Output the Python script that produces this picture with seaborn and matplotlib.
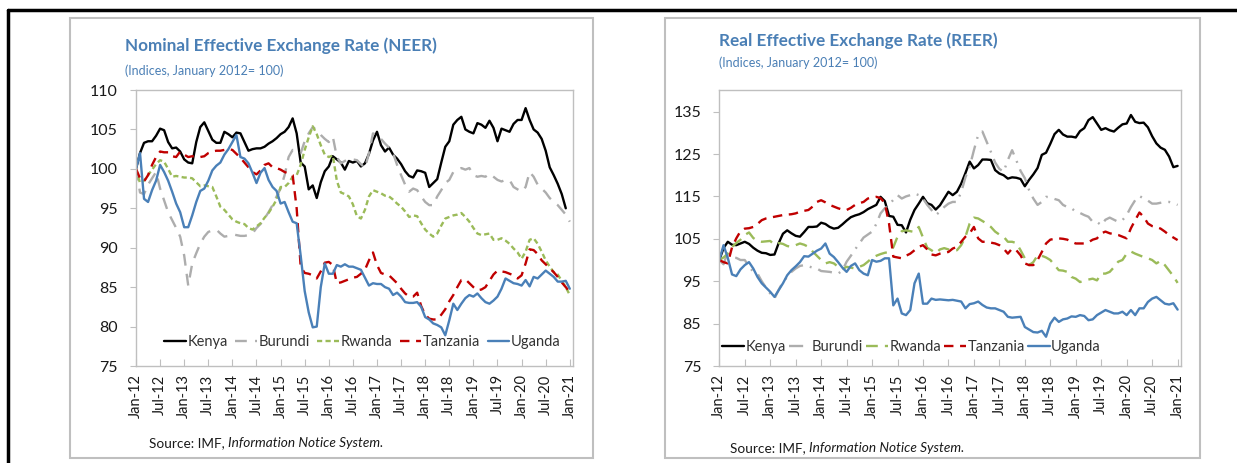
import matplotlib
matplotlib.use("Agg")
import matplotlib.pyplot as plt
from matplotlib.patches import Rectangle
from matplotlib.lines import Line2D
import pandas as pd
import seaborn as sns

# ---------------------------------------------------------------- data
countries = ["Kenya", "Burundi", "Rwanda", "Tanzania", "Uganda"]
tick_labels = ["Jan-12", "Jul-12", "Jan-13", "Jul-13", "Jan-14", "Jul-14",
               "Jan-15", "Jul-15", "Jan-16", "Jul-16", "Jan-17", "Jul-17",
               "Jan-18", "Jul-18", "Jan-19", "Jul-19", "Jan-20", "Jul-20",
               "Jan-21"]

# Nominal effective exchange rate, monthly from Jan-2012 (Jan 2012 = 100)
neer_kenya = [100.0, 102.0, 103.3, 103.5, 103.5, 104.2, 105.1, 104.9, 103.4, 102.6,
              102.7, 102.2, 101.2, 100.8, 100.7, 103.4, 105.3, 105.9, 104.8, 103.7,
              103.3, 103.3, 104.7, 104.4, 104.0, 104.6, 104.5, 103.4, 102.3, 102.5,
              102.6, 102.6, 102.8, 103.2, 103.5, 103.9, 104.4, 104.7, 105.3, 106.4,
              104.5, 100.8, 100.3, 97.4, 97.9, 96.3, 98.3, 99.7, 100.3, 101.6,
              101.2, 100.8, 99.9, 101.0, 100.8, 101.0, 100.3, 100.7, 101.9, 103.6,
              104.7, 103.0, 102.2, 102.7, 101.8, 101.3, 100.6, 99.7, 99.1, 98.9,
              99.8, 99.7, 99.5, 97.7, 98.2, 98.7, 100.8, 102.8, 103.5, 105.6,
              106.2, 106.6, 105.0, 104.7, 104.5, 105.8, 105.6, 105.2, 106.1, 105.2,
              103.5, 105.1, 104.9, 104.7, 105.7, 106.2, 106.2, 107.7, 106.2, 105.0,
              104.6, 103.8, 102.3, 100.2, 99.2, 98.1, 96.8, 95.0]
neer_burundi = [100.0, 97.0, 96.8, 98.0, 98.8, 99.6, 97.5, 96.0, 94.5, 93.5,
                92.5, 91.4, 89.0, 85.2, 88.0, 89.3, 90.5, 91.4, 92.0, 92.2,
                92.3, 91.8, 91.4, 91.5, 91.7, 91.6, 91.5, 91.5, 91.6, 91.8,
                92.5, 93.0, 93.7, 94.5, 95.4, 96.5, 97.5, 99.2, 101.5, 102.4,
                102.2, 102.0, 103.5, 104.5, 105.3, 104.9, 104.3, 103.8, 103.4, 104.1,
                101.5, 100.7, 101.0, 101.3, 101.2, 101.1, 100.6, 100.1, 102.0, 104.5,
                104.3, 103.8, 103.2, 102.7, 102.0, 100.5, 99.2, 98.0, 97.1, 97.5,
                97.3, 96.5, 95.8, 95.4, 95.4, 96.5, 97.3, 98.2, 98.6, 99.6,
                99.9, 100.1, 99.9, 100.1, 99.2, 99.0, 99.1, 99.0, 99.4, 99.0,
                98.6, 98.4, 98.6, 98.6, 97.7, 97.4, 97.1, 97.7, 99.6, 99.0,
                98.0, 97.5, 97.0, 96.3, 95.8, 95.4, 94.8, 94.2, 93.3]
neer_rwanda = [100.0, 98.2, 98.5, 99.2, 99.9, 100.6, 101.1, 100.9, 100.0, 99.0,
               99.1, 99.0, 98.9, 98.9, 98.8, 98.3, 97.8, 97.9, 97.8, 97.7,
               96.5, 95.2, 94.8, 94.2, 93.6, 93.3, 93.1, 93.0, 92.5, 92.3,
               92.7, 93.1, 93.8, 94.4, 95.2, 96.1, 97.7, 97.7, 98.2, 99.0,
               99.2, 100.5, 102.4, 104.0, 105.4, 104.4, 103.0, 101.8, 101.5, 101.7,
               98.5, 97.0, 96.8, 96.5, 95.5, 94.0, 93.7, 94.8, 96.5, 97.3,
               97.1, 96.9, 96.6, 96.5, 96.1, 95.6, 95.2, 94.6, 93.9, 94.1,
               94.0, 93.1, 92.3, 91.8, 91.4, 91.8, 92.8, 93.7, 93.9, 94.1,
               94.2, 94.4, 93.9, 93.3, 92.5, 91.8, 91.6, 91.7, 91.8, 91.0,
               91.0, 91.2, 90.9, 90.5, 89.9, 89.4, 88.6, 89.5, 91.0, 91.2,
               90.5, 89.5, 88.4, 87.6, 86.9, 86.6, 85.8, 85.0, 84.0]
neer_tanzania = [100.0, 98.8, 98.4, 99.2, 100.5, 101.5, 102.2, 102.1, 102.1, 101.6,
                 101.5, 102.2, 101.8, 101.5, 101.6, 101.5, 101.5, 101.6, 102.0, 102.2,
                 102.3, 102.3, 102.4, 102.5, 102.4, 101.9, 101.4, 100.8, 100.2, 99.6,
                 99.3, 99.8, 100.5, 100.7, 100.2, 100.1, 99.9, 99.6, 99.4, 99.2,
                 95.0, 87.6, 86.8, 86.7, 86.5, 86.1, 87.0, 88.1, 88.2, 87.8,
                 85.5, 85.6, 85.8, 86.0, 86.2, 86.3, 86.7, 87.2, 88.4, 89.4,
                 87.8, 86.8, 86.6, 86.5, 86.0, 85.5, 84.8, 84.2, 83.8, 83.8,
                 84.3, 82.6, 81.5, 81.0, 80.9, 80.9, 81.5, 82.2, 83.2, 84.0,
                 85.0, 85.9, 86.0, 85.5, 85.0, 84.6, 84.7, 85.0, 85.8, 86.6,
                 87.1, 87.0, 86.9, 86.7, 86.5, 86.1, 86.5, 88.0, 89.8, 89.7,
                 89.2, 88.4, 87.9, 87.4, 86.9, 86.3, 85.6, 85.0, 84.4]
neer_uganda = [100.0, 102.0, 96.2, 95.8, 97.3, 98.5, 100.5, 99.6, 98.5, 97.1,
               95.6, 94.5, 92.6, 92.6, 94.1, 95.8, 97.2, 97.5, 98.5, 99.8,
               100.4, 100.8, 101.8, 102.5, 103.4, 104.3, 101.5, 101.3, 100.7, 99.5,
               98.2, 99.5, 100.1, 98.6, 97.7, 97.2, 95.6, 95.8, 94.5, 93.3,
               93.1, 89.0, 84.5, 81.8, 79.9, 80.0, 85.0, 88.0, 86.7, 86.7,
               87.8, 87.6, 87.9, 87.6, 87.6, 87.4, 87.2, 86.2, 85.2, 85.5,
               85.4, 85.4, 85.0, 84.8, 84.0, 84.3, 83.8, 83.1, 83.0, 83.0,
               83.1, 82.5, 81.2, 80.9, 80.4, 80.2, 79.9, 78.9, 80.8, 82.9,
               82.1, 82.9, 83.6, 84.0, 83.8, 84.2, 83.6, 83.1, 82.9, 83.3,
               83.8, 84.8, 86.1, 85.8, 85.5, 85.4, 85.2, 85.9, 85.1, 86.3,
               86.1, 86.6, 87.1, 86.7, 86.3, 85.7, 85.7, 85.8, 84.8]

# Real effective exchange rate, monthly from Jan-2012 (Jan 2012 = 100)
reer_kenya = [100.0, 102.8, 104.3, 103.6, 103.5, 103.9, 104.3, 103.8, 102.9, 102.2,
              101.7, 101.6, 101.2, 101.3, 104.0, 106.2, 107.0, 106.3, 105.7, 105.5,
              106.6, 107.8, 107.8, 107.9, 108.8, 108.5, 107.8, 107.4, 107.6, 108.4,
              109.3, 110.1, 110.5, 110.8, 111.3, 112.0, 112.5, 113.0, 114.9, 113.9,
              110.4, 110.2, 108.3, 108.2, 106.5, 109.5, 111.8, 113.3, 114.9, 113.4,
              113.0, 111.9, 112.9, 114.5, 116.1, 115.3, 116.1, 118.0, 120.5, 123.2,
              121.6, 122.4, 123.7, 123.7, 123.6, 121.2, 120.4, 120.0, 119.2, 119.5,
              119.4, 119.1, 117.4, 118.9, 120.2, 121.7, 124.8, 125.3, 127.4, 129.7,
              130.7, 129.6, 129.1, 129.1, 128.9, 130.4, 131.1, 133.0, 133.7, 132.2,
              130.7, 131.1, 130.6, 130.3, 131.2, 132.0, 132.2, 134.2, 132.6, 132.3,
              132.4, 131.3, 129.2, 127.5, 126.5, 126.0, 124.4, 121.9, 122.2]
reer_burundi = [100.0, 99.0, 102.0, 100.5, 100.5, 100.0, 100.0, 98.5, 97.2, 96.8,
                95.0, 93.5, 92.1, 90.9, 93.0, 94.8, 96.0, 97.2, 98.0, 98.6,
                98.8, 98.5, 98.2, 98.0, 97.4, 97.3, 97.2, 97.0, 96.8, 97.5,
                99.6, 101.0, 102.5, 103.9, 105.3, 106.0, 106.7, 108.5, 111.0, 112.2,
                113.0, 114.2, 115.3, 114.5, 115.0, 115.3, 115.7, 115.3, 114.5, 113.0,
                111.8, 110.6, 111.4, 112.5, 113.3, 113.7, 113.7, 116.0, 119.5, 122.0,
                125.9, 129.5, 130.3, 127.9, 125.5, 123.0, 121.5, 120.8, 123.6, 125.9,
                123.5, 121.0, 119.3, 116.5, 114.5, 113.0, 113.7, 114.9, 114.8, 114.4,
                114.1, 113.0, 112.5, 112.2, 111.4, 111.1, 110.6, 110.2, 109.0, 109.0,
                108.2, 109.5, 110.0, 109.5, 109.0, 109.4, 110.6, 112.5, 114.1, 115.1,
                114.5, 114.0, 113.3, 113.3, 113.5, 113.7, 113.7, 113.4, 113.0]
reer_rwanda = [100.0, 100.6, 101.5, 103.1, 104.0, 104.8, 105.9, 106.5, 105.2, 104.5,
               104.3, 104.4, 104.5, 103.6, 104.0, 103.8, 103.3, 103.1, 103.5, 103.9,
               103.6, 103.1, 102.0, 101.0, 100.0, 99.2, 99.5, 99.2, 98.4, 97.8,
               98.4, 98.2, 98.0, 98.4, 98.8, 99.6, 100.5, 101.0, 101.4, 101.7,
               101.9, 103.0, 105.5, 106.8, 107.0, 106.8, 106.6, 107.8, 105.3, 102.9,
               102.3, 101.6, 102.5, 102.8, 102.5, 102.3, 102.3, 103.5, 105.5, 108.6,
               110.0, 109.8, 109.2, 108.6, 107.8, 106.7, 106.0, 105.5, 104.3, 104.3,
               104.0, 102.3, 100.4, 98.8, 99.5, 101.1, 101.0, 100.6, 100.0, 98.8,
               97.6, 97.5, 97.2, 96.0, 95.6, 94.8, 95.2, 95.4, 95.6, 95.2,
               96.8, 96.8, 97.2, 98.3, 99.6, 100.0, 101.5, 102.0, 101.5, 101.1,
               100.7, 100.4, 100.0, 99.2, 99.8, 98.8, 97.5, 96.2, 94.6]
reer_tanzania = [100.0, 99.5, 99.2, 103.0, 105.1, 106.8, 107.4, 107.5, 107.8, 108.5,
                 109.4, 109.8, 110.0, 110.2, 110.4, 110.6, 110.7, 110.8, 111.0, 111.4,
                 111.6, 111.8, 112.6, 113.7, 114.1, 113.6, 113.0, 112.6, 112.2, 111.9,
                 111.8, 112.3, 113.0, 113.4, 113.7, 114.5, 114.7, 114.9, 114.6, 113.4,
                 108.6, 100.8, 100.6, 100.4, 101.0, 101.5, 102.3, 103.1, 103.5, 102.5,
                 101.3, 101.1, 101.5, 101.7, 101.9, 102.7, 103.1, 104.3, 105.5, 106.3,
                 107.8, 105.1, 104.3, 104.3, 104.1, 103.9, 103.5, 102.7, 101.5, 102.7,
                 102.3, 101.1, 99.2, 98.8, 98.8, 100.0, 101.9, 103.9, 104.8, 105.0,
                 105.1, 105.0, 104.8, 104.3, 103.9, 103.9, 103.9, 104.2, 104.8, 105.1,
                 106.3, 106.7, 106.3, 106.1, 105.9, 105.5, 105.1, 107.5, 109.4, 111.2,
                 110.2, 108.6, 108.0, 107.8, 107.4, 106.7, 105.9, 105.3, 104.7]
reer_uganda = [100.0, 103.5, 100.5, 96.6, 96.2, 97.8, 98.8, 99.5, 98.0, 96.0,
               94.5, 93.5, 92.5, 91.3, 92.9, 94.5, 96.4, 97.6, 98.5, 99.5,
               100.9, 100.8, 101.5, 102.2, 102.7, 103.9, 101.5, 100.7, 99.5, 98.2,
               97.2, 98.6, 99.2, 97.6, 96.8, 96.4, 100.0, 99.6, 99.8, 100.4,
               100.4, 89.3, 90.9, 87.4, 87.0, 88.2, 94.5, 96.8, 89.7, 89.7,
               90.9, 90.6, 90.7, 90.6, 90.5, 90.6, 90.4, 90.2, 88.6, 89.6,
               89.8, 90.2, 89.4, 88.8, 88.6, 88.6, 88.2, 87.8, 86.6, 86.4,
               86.5, 86.6, 84.2, 83.6, 83.0, 82.9, 83.3, 81.9, 85.0, 86.4,
               85.4, 86.0, 86.2, 86.7, 86.6, 87.0, 86.8, 85.8, 86.0, 87.0,
               87.6, 88.2, 87.8, 87.4, 87.4, 87.8, 87.0, 88.2, 87.0, 88.6,
               88.6, 90.1, 90.9, 91.3, 90.5, 89.7, 89.5, 89.8, 88.3]

neer_series = [neer_kenya, neer_burundi, neer_rwanda, neer_tanzania, neer_uganda]
reer_series = [reer_kenya, reer_burundi, reer_rwanda, reer_tanzania, reer_uganda]


def to_long(series):
    frames = []
    for name, vals in zip(countries, series):
        frames.append(pd.DataFrame({"month": range(len(vals)),
                                    "index": vals, "country": name}))
    return pd.concat(frames, ignore_index=True)


neer_df = to_long(neer_series)
reer_df = to_long(reer_series)

# ---------------------------------------------------------------- style
sns.set_theme(style="white")
FONT = ["Lato", "Liberation Sans", "DejaVu Sans"]
plt.rcParams["font.family"] = FONT

W, H = 1237, 463
fig = plt.figure(figsize=(W / 100, H / 100), dpi=100)
fig.patch.set_facecolor("white")

colors = {"Kenya": "#000000", "Burundi": "#ADADAD", "Rwanda": "#9BBB59",
          "Tanzania": "#C00000", "Uganda": "#4A80B8"}
neer_dash = {"Kenya": "-", "Burundi": (0, (5, 3.5)), "Rwanda": (0, (2.2, 1.4)),
             "Tanzania": (0, (4, 2.8)), "Uganda": "-"}
reer_dash = {"Kenya": "-", "Burundi": (0, (6, 3, 0.8, 3)), "Rwanda": (0, (5, 3)),
             "Tanzania": (0, (4, 2.8)), "Uganda": "-"}

TITLE_BLUE = "#4A7FB5"
GRID_GRAY = "#BFBFBF"
TXT = "#1a1a1a"


def fig_rect(x0, y0, x1, y1):
    return [x0 / W, 1 - y1 / H, (x1 - x0) / W, (y1 - y0) / H]


def draw_panel(rect, df, dashes, ylim, yticks, legend_xy, colspace, hlen):
    ax = fig.add_axes(rect)
    for name in countries:
        sub = df[df["country"] == name]
        sns.lineplot(data=sub, x="month", y="index", ax=ax, color=colors[name],
                     linestyle=dashes[name], linewidth=1.7, label=name)
    ax.set_xlim(0, 108.8)
    ax.set_ylim(*ylim)
    ax.set_yticks(yticks)
    ax.set_yticklabels([str(t) for t in yticks], fontsize=11.5, color=TXT)
    ax.set_xticks(range(0, 109, 6))
    ax.set_xticklabels(tick_labels, rotation=90, fontsize=10.5, color=TXT)
    ax.set_xlabel("")
    ax.set_ylabel("")
    for sp in ax.spines.values():
        sp.set_color(GRID_GRAY)
        sp.set_linewidth(1.0)
    ax.tick_params(axis="y", direction="out", length=4, width=0.8,
                   color=GRID_GRAY, pad=9, left=True)
    ax.tick_params(axis="x", direction="in", length=5, width=0.8,
                   color=GRID_GRAY, pad=6, bottom=True)
    ax.legend(loc="center", bbox_to_anchor=legend_xy, ncol=5, frameon=False,
              handlelength=hlen, handletextpad=0.1, columnspacing=colspace,
              fontsize=10.5, labelcolor="#333333", borderaxespad=0)
    return ax


# panel frames
for x0, x1 in [(70, 593), (665, 1200)]:
    fig.add_artist(Rectangle((x0 / W, 1 - 458 / H), (x1 - x0) / W, 440 / H,
                             transform=fig.transFigure, fill=False,
                             edgecolor=GRID_GRAY, linewidth=1.5))

# outer black rules
fig.add_artist(Line2D([8 / W, 1], [1 - 10 / H, 1 - 10 / H], color="black",
                      linewidth=2.5, transform=fig.transFigure))
fig.add_artist(Line2D([8 / W, 8 / W], [1 - 10 / H, 0], color="black",
                      linewidth=2.5, transform=fig.transFigure))

draw_panel(fig_rect(136, 90, 573, 366), neer_df, neer_dash, (75, 110),
           list(range(75, 111, 5)), (0.518, 0.087), 0.5, 1.5)
draw_panel(fig_rect(719.3, 90, 1181, 366), reer_df, reer_dash, (75, 140.1),
           list(range(75, 136, 10)), (0.416, 0.069), 0.2, 1.5)

# titles and notes
fig.text(125 / W, 1 - 46 / H, "Nominal Effective Exchange Rate (NEER)",
         fontsize=12.3, fontweight="bold", color=TITLE_BLUE, va="center")
fig.text(125 / W, 1 - 71 / H, "(Indices, January 2012= 100)",
         fontsize=9, color=TITLE_BLUE, va="center")
fig.text(719 / W, 1 - 41 / H, "Real Effective Exchange Rate (REER)",
         fontsize=12.3, fontweight="bold", color=TITLE_BLUE, va="center")
fig.text(719 / W, 1 - 63 / H, "(Indices, January 2012= 100)",
         fontsize=9, color=TITLE_BLUE, va="center")

for x, y in [(149, 443), (730, 448)]:
    t1 = fig.text(x / W, 1 - y / H, "Source: IMF, ", fontsize=9.8, color=TXT,
                  va="center")
    fig.canvas.draw()
    bb = t1.get_window_extent()
    fig.text(bb.x1 / W, 1 - y / H, "Information Notice System.", fontsize=9.8,
             style="italic", color=TXT, va="center")

fig.savefig("out.png", dpi=100, facecolor="white")
